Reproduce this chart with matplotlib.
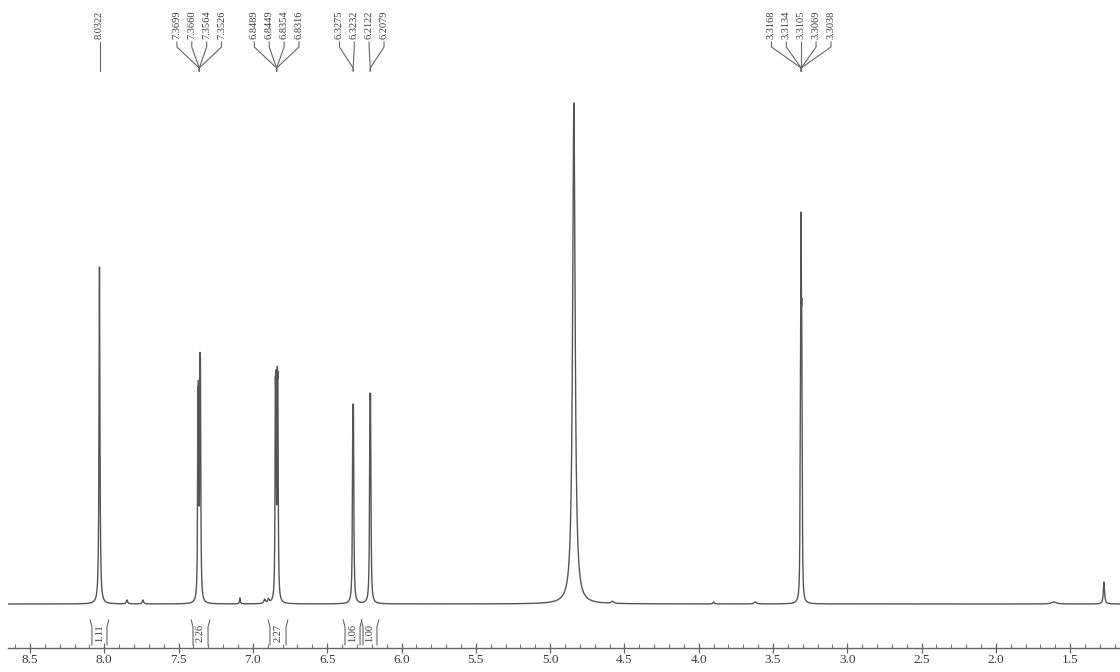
import numpy as np
import matplotlib.pyplot as plt
from matplotlib.ticker import MultipleLocator, FormatStrFormatter

# ---- peak list (ppm, height in px above baseline, FWHM in ppm)
peak_ppm = [8.0322, 7.3699, 7.3660, 7.3564, 7.3526, 6.8489, 6.8449, 6.8354, 6.8316,
            6.3275, 6.3232, 6.2122, 6.2079, 4.840,
            3.3168, 3.3134, 3.3105, 3.3069, 3.3038, 1.273]
peak_height = [338, 158, 158, 179, 179, 168, 168, 168, 168,
               147, 147, 155, 155, 501,
               100, 190, 270, 190, 100, 22]
peak_width = [0.007, 0.005, 0.005, 0.005, 0.005, 0.005, 0.005, 0.005, 0.005,
              0.006, 0.006, 0.006, 0.006, 0.020,
              0.004, 0.004, 0.004, 0.004, 0.004, 0.010]

# small impurity signals
minor_ppm = [7.847, 7.740, 7.087, 6.920, 6.895, 4.58, 3.90, 3.62, 1.61]
minor_height = [4, 4, 6, 4, 4, 2, 2, 2, 2]
minor_width = [0.010, 0.010, 0.006, 0.012, 0.012, 0.02, 0.01, 0.02, 0.04]

# peak picking labels, grouped as printed on top
multiplets = [[8.0322], [7.3699, 7.3660, 7.3564, 7.3526], [6.8489, 6.8449, 6.8354, 6.8316],
              [6.3275, 6.3232], [6.2122, 6.2079], [3.3168, 3.3134, 3.3105, 3.3069, 3.3038]]
label_groups = [[0], [1], [2], [3, 4], [5]]

# integrals
int_ranges = [(8.083, 7.982), (7.403, 7.302), (6.885, 6.777), (6.380, 6.279), (6.259, 6.165)]
int_values = ['1.11', '2.26', '2.27', '1.06', '1.00']

serif = 'Liberation Serif'
line_c = '#555555'
text_c = '#3a3a3a'

x = np.arange(1.16, 8.66, 0.0004)
y = np.zeros_like(x)
for c, h, w in zip(peak_ppm + minor_ppm, peak_height + minor_height, peak_width + minor_width):
    y += h / (1 + (2 * (x - c) / w) ** 2)

fig = plt.figure(figsize=(11.2, 6.72), dpi=100)
ax = fig.add_axes([8 / 1120, 24 / 672, 1112 / 1120, 648 / 672])
ax.set_xlim(8.648, 1.165)
ax.set_ylim(-44, 604)

ax.plot(x, y, color=line_c, lw=1.0)

# axis styling
for s in ['top', 'left', 'right']:
    ax.spines[s].set_visible(False)
ax.spines['bottom'].set_color('#666666')
ax.spines['bottom'].set_linewidth(1.0)
ax.set_yticks([])
ax.xaxis.set_major_locator(MultipleLocator(0.5))
ax.xaxis.set_minor_locator(MultipleLocator(0.1))
ax.xaxis.set_major_formatter(FormatStrFormatter('%.1f'))
ax.tick_params(axis='x', which='major', direction='inout', length=7, width=0.9,
               color='#666666', pad=1, labelsize=9.5, labelcolor=text_c)
ax.tick_params(axis='x', which='minor', direction='in', length=3, width=0.8, color='#777777')
for lbl in ax.get_xticklabels():
    lbl.set_family(serif)

# peak labels
for grp in label_groups:
    labels = []
    for mi in grp:
        tgt = np.mean(multiplets[mi])
        for v in multiplets[mi]:
            labels.append((v, tgt))
    center = np.mean([v for v, _ in labels])
    n = len(labels)
    for i, (v, tgt) in enumerate(labels):
        xl = center + ((n - 1) / 2 - i) * 0.1
        ax.text(xl, 565, f'{v:.4f}', rotation=90, ha='center', va='bottom',
                fontsize=7.5, family=serif, color=text_c)
        ax.plot([xl, xl, tgt, tgt], [562, 557, 536, 533], color='#666666', lw=0.8,
                clip_on=False)

# integral brackets
for (a, b), val in zip(int_ranges, int_values):
    for xe, d in [(a, 1), (b, -1)]:
        ax.plot([xe, xe, xe + d * 0.012], [-41, -23, -16], color='#666666', lw=0.8,
                clip_on=False)
    ax.text((a + b) / 2, -29, val, rotation=90, ha='center', va='center',
            fontsize=7.5, family=serif, color=text_c)

fig.savefig('out.png', dpi=100, facecolor='white')
